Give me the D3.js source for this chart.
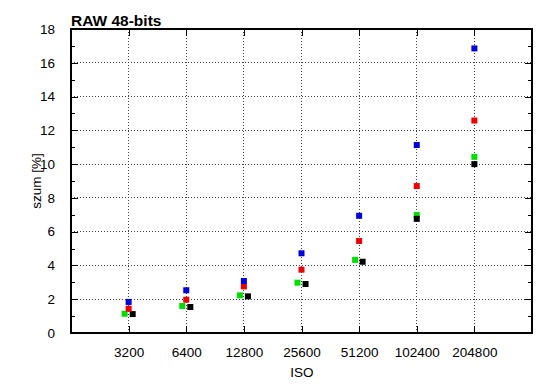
<!DOCTYPE html>
<html><head><meta charset="utf-8">
<script src="https://cdn.jsdelivr.net/npm/d3@7"></script>
<style>body{margin:0;background:#fff}svg{display:block}text{font-family:"Liberation Sans",Arial,sans-serif}</style>
</head><body>
<svg id="c" width="550" height="389"></svg>
<script>
const isoTicks = [3200, 6400, 12800, 25600, 51200, 102400, 204800];
const yTicks = [0, 2, 4, 6, 8, 10, 12, 14, 16, 18];
const isoBlue  = [3200, 6400, 12800, 25600, 51200, 102400, 204800];
const blue     = [1.84, 2.53, 3.08, 4.72, 6.94, 11.13, 16.85];
const isoRed   = [3200, 6400, 12800, 25600, 51200, 102400, 204800];
const red      = [1.44, 1.97, 2.76, 3.75, 5.45, 8.70, 12.58];
const isoGreen = [3050, 6100, 12200, 24400, 48800, 102400, 204800];
const green    = [1.14, 1.60, 2.23, 2.98, 4.33, 6.99, 10.43];
const isoBlack = [3360, 6720, 13440, 26880, 53400, 102400, 204800];
const black    = [1.12, 1.54, 2.17, 2.90, 4.22, 6.76, 10.00];

const series = [
  {iso: isoGreen, v: green, color: "#00e000"},
  {iso: isoBlack, v: black, color: "#000000"},
  {iso: isoRed, v: red, color: "#ee0000"},
  {iso: isoBlue, v: blue, color: "#0000dd"}
];

const svg = d3.select("#c");
const L = 71, R = 532, T = 29, B = 333;
const x = d3.scaleLog().base(2).domain([1600, 409600]).range([L, R]);
const y = d3.scaleLinear().domain([0, 18]).range([B, T]);

// grid
const g = svg.append("g");
g.selectAll("line.gx").data(isoTicks).join("line")
  .attr("x1", d => x(d)).attr("x2", d => x(d)).attr("y1", T).attr("y2", B)
  .attr("stroke", "#444").attr("stroke-width", 1).attr("stroke-dasharray", "1,2").attr("shape-rendering","crispEdges");
g.selectAll("line.gy").data(yTicks.slice(1, -1)).join("line")
  .attr("x1", L).attr("x2", R).attr("y1", d => y(d)).attr("y2", d => y(d))
  .attr("stroke", "#444").attr("stroke-width", 1).attr("stroke-dasharray", "1,2").attr("shape-rendering","crispEdges");

// axes
const minor = d3.range(0, 19, 1);
svg.append("g").attr("transform", `translate(${L},0)`)
  .call(d3.axisLeft(y).tickValues(minor).tickSize(-4).tickFormat(""))
  .call(a => a.select(".domain").remove());
svg.append("g").attr("transform", `translate(${R},0)`)
  .call(d3.axisRight(y).tickValues(minor).tickSize(-4).tickFormat(""))
  .call(a => a.select(".domain").remove());
svg.append("g").attr("transform", `translate(${L},0)`)
  .call(d3.axisLeft(y).tickValues(yTicks).tickSize(-7).tickPadding(16).tickFormat(d3.format("d")))
  .call(a => a.select(".domain").remove())
  .call(a => a.selectAll("text").attr("font-size", 13.5).attr("fill", "#000"));
svg.append("g").attr("transform", `translate(${R},0)`)
  .call(d3.axisRight(y).tickValues(yTicks).tickSize(-7).tickFormat(""))
  .call(a => a.select(".domain").remove());
svg.append("g").attr("transform", `translate(0,${B})`)
  .call(d3.axisBottom(x).tickValues(isoTicks).tickSize(-7).tickPadding(14).tickFormat(d3.format("d")))
  .call(a => a.select(".domain").remove())
  .call(a => a.selectAll("text").attr("font-size", 13.5).attr("fill", "#000"));
svg.append("g").attr("transform", `translate(0,${T})`)
  .call(d3.axisTop(x).tickValues(isoTicks).tickSize(-7).tickFormat(""))
  .call(a => a.select(".domain").remove());
svg.selectAll(".tick line").attr("stroke", "#000").attr("shape-rendering","crispEdges");

svg.append("rect").attr("x", L).attr("y", T).attr("width", R - L).attr("height", B - T)
  .attr("fill", "none").attr("stroke", "#000").attr("stroke-width", 1.3).attr("shape-rendering","crispEdges");

// points
const s = 6;
series.forEach(sr => {
  svg.append("g").selectAll("rect").data(sr.v.map((v, i) => [sr.iso[i], v])).join("rect")
    .attr("x", d => x(d[0]) - s / 2).attr("y", d => y(d[1]) - s / 2)
    .attr("width", s).attr("height", s).attr("fill", sr.color);
});

// labels
svg.append("text").attr("x", L).attr("y", 26).attr("font-size", 15.5).attr("font-weight", "bold").text("RAW 48-bits");
svg.append("text").attr("x", (L + R) / 2 + 0.5).attr("y", 377).attr("text-anchor", "middle").attr("font-size", 13.5).text("ISO");
svg.append("text").attr("transform", `translate(41,${(T + B) / 2}) rotate(-90)`).attr("text-anchor", "middle").attr("font-size", 13.5).text("szum [%]");
</script>
</body></html>
